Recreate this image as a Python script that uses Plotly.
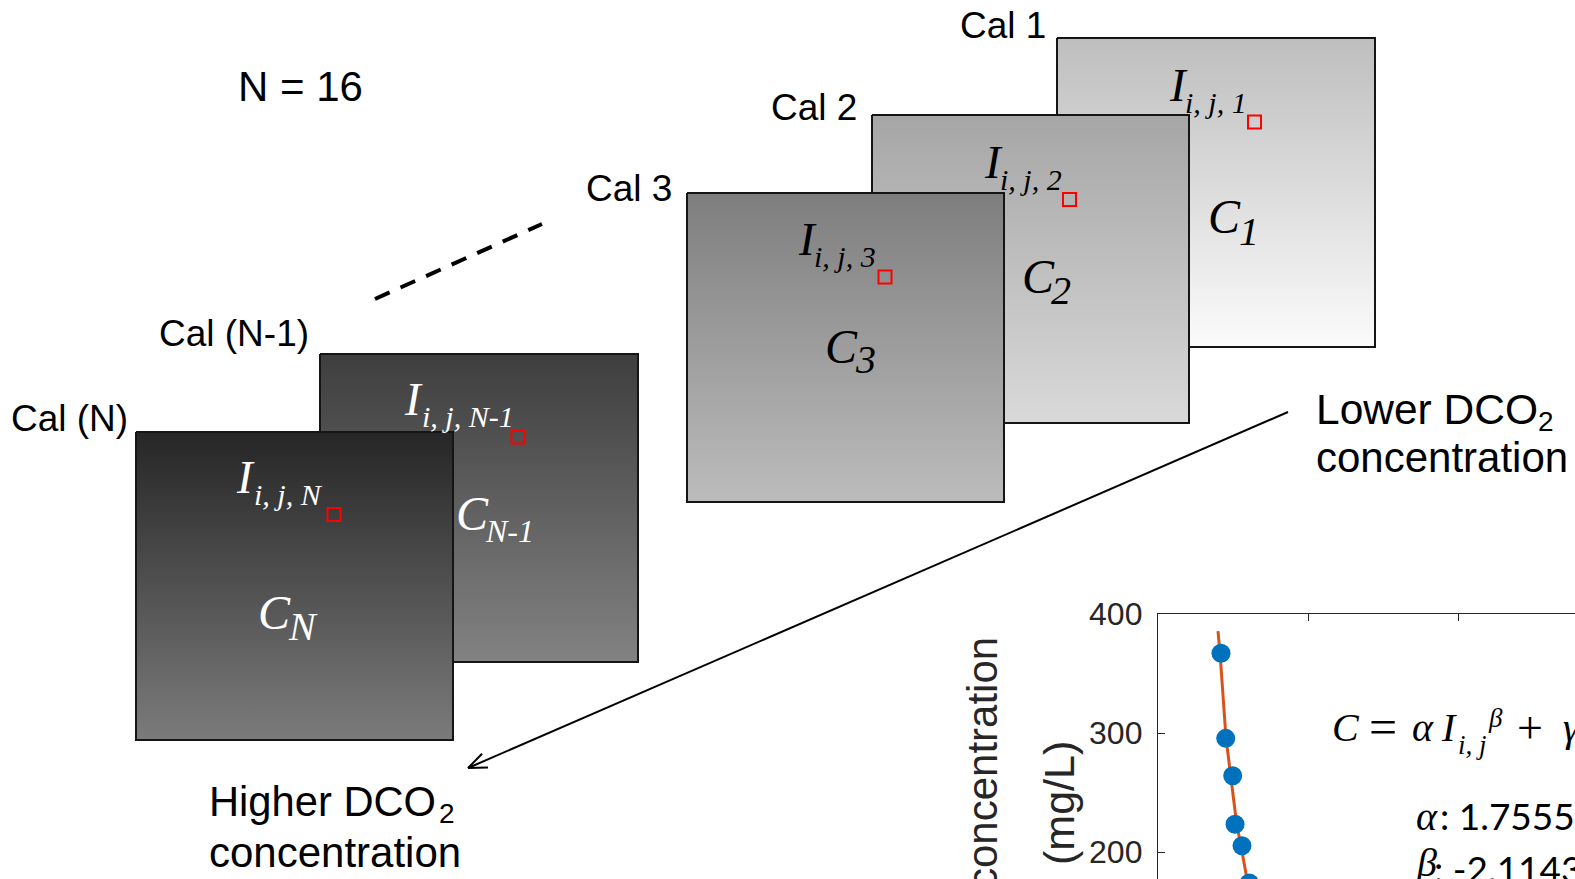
import math
import plotly.graph_objects as go

W, H = 1575, 879

# ---- calibration image stack -------------------------------------------
frame_names = ["Cal 1", "Cal 2", "Cal 3", "Cal (N-1)", "Cal (N)"]
frame_index = ["1", "2", "3", "N-1", "N"]
frame_top_gray = ["#bebebe", "#a6a6a6", "#7e7e7e", "#3e3e3e", "#262626"]
frame_bottom_gray = ["#fbfbfb", "#d9d9d9", "#bcbcbc", "#828282", "#7b7b7b"]
frame_text_color = ["black", "black", "black", "white", "white"]
n_calibrations = 16

# ---- calibration curve (intensity vs. DCO2 concentration) ---------------
intensity = [0.084, 0.0903, 0.0996, 0.1027, 0.112, 0.1217]
concentration = [367.0, 295.5, 264.1, 223.3, 205.3, 174.0]
fit_intensity = [0.080, 0.0827, 0.0907, 0.0969, 0.1049, 0.1107, 0.1187, 0.1213]
fit_concentration = [385.7, 367.2, 295.8, 263.9, 223.5, 205.0, 177.3, 168.0]
alpha_value = "1.7555"
beta_value = "-2.1143"
y_ticks = [200, 300, 400]

# ---- page geometry (pixels) -------------------------------------------
frame_boxes = [(1057, 38, 1375, 347), (872, 115, 1189, 423), (687, 193, 1004, 502),
               (320, 354, 638, 662), (136, 432, 453, 740)]
frame_label_pos = [(959, 38), (770, 120.5), (585, 201), (158, 346), (10, 431)]
I_pos = [(1168, 101), (983, 178), (797, 255), (403, 415), (235, 493)]
I_sub_pos = [(1184, 113), (999, 190), (813, 267), (421, 427), (253, 505)]
pixel_pos = [(1254.5, 122), (1069.5, 199.5), (885, 277), (518, 437), (334, 514.5)]
C_pos = [(1207, 233), (1021, 293), (824, 363), (455, 530), (257, 629)]
C_sub_pos = [(1238, 245), (1050, 304), (854, 373), (484, 542), (287, 640)]

SANS = "Liberation Sans"
SERIF = "Liberation Serif"
CAL = "Lato"
MID = {SANS: 0.3465, SERIF: 0.3375, CAL: 0.387}

fig = go.Figure()


def put(text, x, base, size, family=SANS, color="black", italic=False):
    """Place text with its left edge at x and its baseline at `base` (page px)."""
    fig.add_annotation(
        x=x, y=base - MID[family] * size, xref="x", yref="y", text=text,
        showarrow=False, xanchor="left", yanchor="middle", borderpad=0,
        font=dict(family=family, size=size, color=color,
                  style="italic" if italic else "normal"))


# image frames, back to front, each with a vertical gray gradient
for k, (x0, y0, x1, y1) in enumerate(frame_boxes):
    fig.add_trace(go.Scatter(
        x=[x0, x1, x1, x0, x0], y=[y0, y0, y1, y1, y0], mode="lines",
        fill="toself", line=dict(color="#151515", width=2),
        fillgradient=dict(type="vertical", start=y0, stop=y1,
                          colorscale=[[0, frame_top_gray[k]], [1, frame_bottom_gray[k]]]),
        hoverinfo="skip", xaxis="x", yaxis="y"))
    # selected pixel (i, j)
    cx, cy = pixel_pos[k]
    fig.add_shape(type="rect", xref="x", yref="y", x0=cx - 6.5, x1=cx + 6.5,
                  y0=cy - 6.5, y1=cy + 6.5, line=dict(color="#ff0000", width=2))
    col = frame_text_color[k]
    put("I", *I_pos[k], 47, SERIF, col, True)
    put("i, j, " + frame_index[k], *I_sub_pos[k], 30, SERIF, col, True)
    put("C", *C_pos[k], 48, SERIF, col, True)
    put(frame_index[k], *C_sub_pos[k], 40 if len(frame_index[k]) == 1 else 32, SERIF, col, True)
    put(frame_names[k], *frame_label_pos[k], 37, SANS)

put(f"N = {n_calibrations}", 237, 101, 42, SANS)

# dashed ellipsis between Cal 3 and Cal (N-1)
fig.add_shape(type="line", xref="x", yref="y", x0=375, y0=299, x1=542, y1=224,
              line=dict(color="black", width=4, dash="16px,12px"))

# arrow from low to high concentration
ax0, ay0, tipx, tipy = 1288, 412, 468, 768
fig.add_shape(type="line", xref="x", yref="y", x0=ax0, y0=ay0, x1=tipx, y1=tipy,
              line=dict(color="black", width=2))
ang = math.atan2(ay0 - tipy, ax0 - tipx)
for da in (-0.38, 0.38):
    fig.add_shape(type="line", xref="x", yref="y", x0=tipx, y0=tipy,
                  x1=tipx + 20 * math.cos(ang + da), y1=tipy + 20 * math.sin(ang + da),
                  line=dict(color="black", width=2))

put("Lower DCO", 1315, 424, 42.5, SANS)
put("2", 1537, 431, 28, SANS)
put("concentration", 1315, 472, 42, SANS)
put("Higher DCO", 208, 816, 41.7, SANS)
put("2", 438, 823, 28, SANS)
put("concentration", 208, 867, 42, SANS)

# ---- calibration curve inset ------------------------------------------
fig.add_trace(go.Scatter(x=fit_intensity, y=fit_concentration, mode="lines",
                         line=dict(color="#D95319", width=3), hoverinfo="skip",
                         xaxis="x2", yaxis="y2"))
fig.add_trace(go.Scatter(x=intensity, y=concentration, mode="markers",
                         marker=dict(color="#0072BD", size=19), hoverinfo="skip",
                         xaxis="x2", yaxis="y2"))

AXC = "#262626"
fig.add_annotation(x=982, y=636, xref="x", yref="y", text="concentration",
                   textangle=-90, showarrow=False, xanchor="center", yanchor="top",
                   borderpad=0, font=dict(family=SANS, size=42, color=AXC))
fig.add_annotation(x=1059, y=740, xref="x", yref="y", text="(mg/L)",
                   textangle=-90, showarrow=False, xanchor="center", yanchor="top",
                   borderpad=0, font=dict(family=SANS, size=43, color=AXC))

# fitted model  C = alpha I^beta + gamma
put("C", 1331, 741, 40, SERIF, "black", True)
put("=", 1368, 744, 50, SERIF)
put("α", 1411, 741, 40, SERIF, "black", True)
put("I", 1440, 741, 40, SERIF, "black", True)
put("i, j", 1457, 754, 27, SERIF, "black", True)
put("β", 1487, 727, 27, SERIF, "black", True)
put("+", 1516, 743, 46, SERIF)
put("γ", 1562, 741, 40, SERIF, "black", True)
put("α", 1415, 830, 40, SERIF, "black", True)
put(": " + alpha_value, 1439, 830, 37, CAL)
put("β", 1415, 876, 40, SERIF, "black", True)
put(": " + beta_value, 1433, 883, 37, CAL)

x_px_per_unit = 750.0
y_px_per_unit = 1.19
ax_left, ax_top = 1158, 614

fig.update_layout(
    width=W, height=H, margin=dict(l=0, r=0, t=0, b=0, pad=0, autoexpand=False),
    paper_bgcolor="white", plot_bgcolor="rgba(0,0,0,0)", showlegend=False,
    xaxis=dict(range=[0, W], domain=[0, 1], visible=False, automargin=False),
    yaxis=dict(range=[H, 0], domain=[0, 1], visible=False, automargin=False),
    xaxis2=dict(domain=[ax_left / W, 1], range=[0, (W - ax_left) / x_px_per_unit],
                anchor="y2", side="top", showline=True, linecolor=AXC, linewidth=1.3,
                ticks="inside", ticklen=7, tickcolor=AXC, tickvals=[0.2, 0.4],
                showticklabels=False, showgrid=False, zeroline=False, automargin=False),
    yaxis2=dict(domain=[0, (H - ax_top) / H],
                range=[400 - (H - ax_top) / y_px_per_unit, 400],
                anchor="x2", showline=True, linecolor=AXC, linewidth=1.3,
                ticks="inside", ticklen=7, tickcolor=AXC, tickvals=y_ticks,
                tickfont=dict(family=SANS, size=32, color=AXC),
                ticklabelstandoff=8, showgrid=False, zeroline=False, automargin=False),
)

fig.write_html("out.html")
